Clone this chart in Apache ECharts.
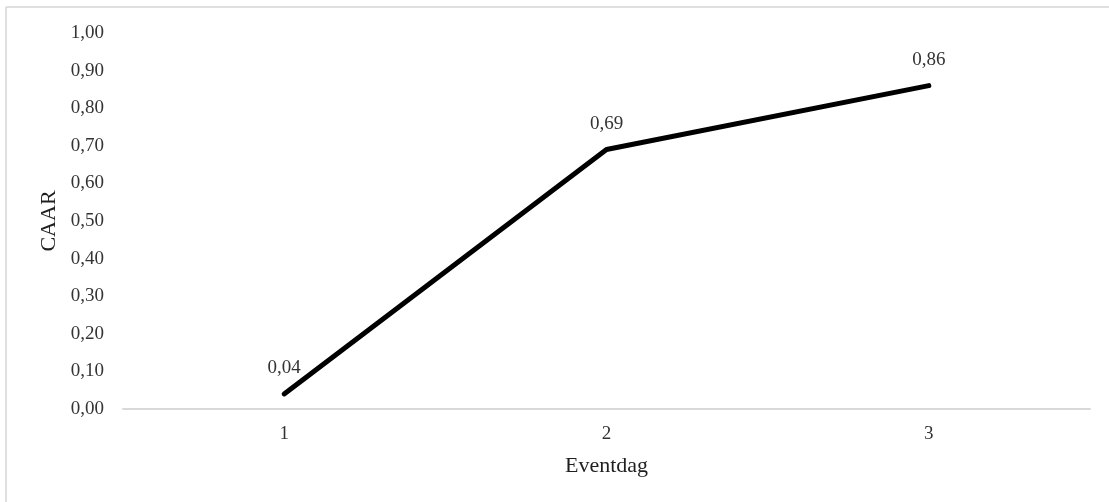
<!DOCTYPE html>
<html>
<head>
<meta charset="utf-8">
<script src="https://cdn.jsdelivr.net/npm/echarts@6/dist/echarts.min.js"></script>
<style>
  html, body { margin: 0; padding: 0; background: #fff; }
  #chart { width: 1109px; height: 502px; }
</style>
</head>
<body>
<div id="chart"></div>
<script>
// Event days and cumulative average abnormal return
const eventDays = ['1', '2', '3'];
const caarValues = [0.04, 0.69, 0.86];
const yTicks = { min: 0, max: 1, step: 0.1 };

const fmt = v => v.toFixed(2).replace('.', ',');
const serif = '"Liberation Serif", "Times New Roman", serif';

const chart = echarts.init(document.getElementById('chart'), null, { renderer: 'canvas' });

chart.setOption({
  animation: false,
  backgroundColor: '#ffffff',
  textStyle: { fontFamily: serif },
  graphic: [
    // frame edges along top and left
    { type: 'line', shape: { x1: 6, y1: 7, x2: 1109, y2: 7 }, style: { stroke: '#d4d4d4', lineWidth: 1.5 } },
    { type: 'line', shape: { x1: 6, y1: 7, x2: 6, y2: 502 }, style: { stroke: '#d4d4d4', lineWidth: 1.5 } }
  ],
  grid: { left: 123, right: 19, top: 33, bottom: 93 },
  xAxis: {
    type: 'category',
    data: eventDays,
    boundaryGap: true,
    name: 'Eventdag',
    nameLocation: 'middle',
    nameGap: 46,
    nameTextStyle: { fontFamily: serif, fontSize: 22, color: '#1f1f1f' },
    axisLine: { lineStyle: { color: '#d9d9d9', width: 2 } },
    axisTick: { show: false },
    axisLabel: { fontFamily: serif, fontSize: 19, color: '#333333', margin: 16 },
    splitLine: { show: false }
  },
  yAxis: {
    type: 'value',
    min: yTicks.min,
    max: yTicks.max,
    interval: yTicks.step,
    name: 'CAAR',
    nameLocation: 'middle',
    nameGap: 63,
    nameTextStyle: { fontFamily: serif, fontSize: 22, color: '#1f1f1f' },
    axisLine: { show: false },
    axisTick: { show: false },
    axisLabel: { fontFamily: serif, fontSize: 19, color: '#333333', margin: 19, formatter: fmt },
    splitLine: { show: false }
  },
  series: [{
    type: 'line',
    data: caarValues,
    symbol: 'circle',
    symbolSize: 2,
    showSymbol: true,
    itemStyle: { color: '#000000' },
    lineStyle: { color: '#000000', width: 5, cap: 'round', join: 'round' },
    label: {
      show: true,
      position: 'top',
      distance: 15,
      fontFamily: serif,
      fontSize: 19,
      color: '#333333',
      formatter: p => fmt(p.value)
    },
    labelLayout: { hideOverlap: false }
  }]
});
</script>
</body>
</html>
